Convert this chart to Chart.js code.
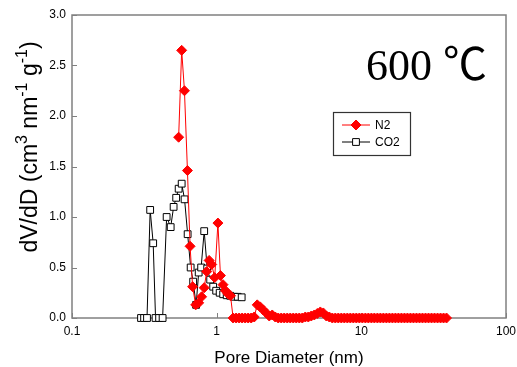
<!DOCTYPE html>
<html>
<head>
<meta charset="utf-8">
<script src="https://cdn.jsdelivr.net/npm/chart.js@4/dist/chart.umd.min.js"></script>
<style>
  html, body { margin: 0; padding: 0; background: #fff; }
  #wrap { width: 517px; height: 367px; position: relative; }
</style>
</head>
<body>
<div id="wrap"><canvas id="c" width="517" height="367"></canvas></div>
<script>
// Axis ticks
const xTicks = [0.1, 1, 10, 100];
const yTicks = [0, 0.5, 1.0, 1.5, 2.0, 2.5, 3.0];

// N2 pore size distribution: diameter (nm) and dV/dD
const n2Diameter = [
  0.546, 0.573, 0.599, 0.628, 0.655, 0.682, 0.716, 0.751, 0.787, 0.820,
  0.853, 0.887, 0.924, 0.969, 1.020, 1.062, 1.106, 1.151, 1.197, 1.246,
  1.300, 1.364, 1.431, 1.501, 1.575, 1.652, 1.733, 1.818, 1.907, 2.000,
  2.098, 2.201, 2.309, 2.422, 2.541, 2.665, 2.796, 2.933, 3.077, 3.228,
  3.386, 3.552, 3.726, 3.908, 4.100, 4.300, 4.510, 4.730, 4.962, 5.205,
  5.460, 5.728, 6.008, 6.303, 6.612, 6.935, 7.275, 7.632, 8.006, 8.398,
  8.809, 9.241, 9.694, 10.17, 10.67, 11.19, 11.74, 12.31, 12.92, 13.55,
  14.21, 14.91, 15.64, 16.41, 17.21, 18.05, 18.94, 19.87, 20.84, 21.86,
  22.93, 24.06, 25.24, 26.47, 27.77, 29.13, 30.56, 32.06, 33.63, 35.28,
  37.00, 38.80
];
const n2Value = [
  1.79, 2.65, 2.25, 1.46, 0.71, 0.31, 0.13, 0.15, 0.21, 0.30,
  0.46, 0.57, 0.53, 0.40, 0.94, 0.42, 0.33, 0.27, 0.24, 0.22,
  0.00, 0.00, 0.00, 0.00, 0.00, 0.00, 0.00, 0.01, 0.13, 0.11,
  0.08, 0.05, 0.02, 0.03, 0.01, 0.00, 0.00, 0.00, 0.00, 0.00,
  0.00, 0.00, 0.00, 0.00, 0.01, 0.01, 0.02, 0.03, 0.045, 0.06,
  0.05, 0.02, 0.01, 0.00, 0.00, 0.00, 0.00, 0.00, 0.00, 0.00,
  0.00, 0.00, 0.00, 0.00, 0.00, 0.00, 0.00, 0.00, 0.00, 0.00,
  0.00, 0.00, 0.00, 0.00, 0.00, 0.00, 0.00, 0.00, 0.00, 0.00,
  0.00, 0.00, 0.00, 0.00, 0.00, 0.00, 0.00, 0.00, 0.00, 0.00,
  0.00, 0.00
];

// CO2 pore size distribution: diameter (nm) and dV/dD
const co2Diameter = [
  0.300, 0.315, 0.330, 0.347, 0.364, 0.378, 0.400, 0.423, 0.451, 0.481,
  0.504, 0.525, 0.546, 0.573, 0.600, 0.630, 0.661, 0.688, 0.721, 0.751,
  0.781, 0.820, 0.860, 0.902, 0.946, 0.992, 1.049, 1.109, 1.173, 1.240,
  1.322, 1.398, 1.489
];
const co2Value = [
  0.00, 0.00, 0.00, 1.07, 0.74, 0.00, 0.00, 0.00, 1.00, 0.90,
  1.10, 1.19, 1.28, 1.33, 1.175, 0.83, 0.50, 0.36, 0.13, 0.45,
  0.50, 0.86, 0.49, 0.38, 0.31, 0.27, 0.25, 0.235, 0.225, 0.22,
  0.21, 0.21, 0.205
];

const seriesNames = ['N2', 'CO2'];
const tempLabel = '600 \u2103';
const xTitle = 'Pore Diameter (nm)';
// y title pieces: [text, superscript?]
const yTitleParts = [['dV/dD (cm', false], ['3', true], [' nm', false], ['-1', true], [' g', false], ['-1', true], [')', false]];

const sansFont = '"Liberation Sans", Arial, sans-serif';
const frameColor = '#808080';

const toPoints = (xs, ys) => xs.map((x, i) => ({ x: x, y: ys[i] }));

// frame, inward tick marks
const framePlugin = {
  id: 'frame',
  beforeDatasetsDraw(chart) {
    const { ctx, chartArea: a, scales } = chart;
    ctx.save();
    ctx.strokeStyle = frameColor;
    ctx.lineWidth = 1.5;
    ctx.strokeRect(a.left, a.top, a.right - a.left, a.bottom - a.top);
    ctx.lineWidth = 1;
    ctx.beginPath();
    yTicks.forEach(v => {
      const y = Math.round(scales.y.getPixelForValue(v)) + 0.5;
      ctx.moveTo(a.left, y); ctx.lineTo(a.left + 5, y);
    });
    xTicks.forEach(v => {
      const x = Math.round(scales.x.getPixelForValue(v)) + 0.5;
      ctx.moveTo(x, a.bottom); ctx.lineTo(x, a.bottom - 5);
    });
    ctx.stroke();
    ctx.restore();
  }
};

// rotated y title with superscripts, temperature label, legend box
const annotPlugin = {
  id: 'annot',
  afterDraw(chart) {
    const { ctx } = chart;
    ctx.save();
    // y axis title
    const base = '23px ' + sansFont, sup = '16px ' + sansFont;
    let total = 0;
    yTitleParts.forEach(([t, s]) => { ctx.font = s ? sup : base; total += ctx.measureText(t).width; });
    ctx.translate(37, 147);
    ctx.rotate(-Math.PI / 2);
    ctx.fillStyle = '#000';
    ctx.textBaseline = 'alphabetic';
    ctx.textAlign = 'left';
    let u = -total / 2;
    yTitleParts.forEach(([t, s]) => {
      ctx.font = s ? sup : base;
      ctx.fillText(t, u, s ? -10 : 0);
      u += ctx.measureText(t).width;
    });
    ctx.restore();

    // temperature label
    ctx.save();
    ctx.fillStyle = '#000';
    ctx.font = '44px "Liberation Serif", "Times New Roman", "Noto Sans CJK SC", serif';
    ctx.textBaseline = 'alphabetic';
    ctx.textAlign = 'left';
    ctx.fillText(tempLabel, 366, 80);
    ctx.restore();

    // legend
    ctx.save();
    const bx = 333, by = 112, bw = 77, bh = 43;
    ctx.strokeStyle = '#333';
    ctx.lineWidth = 1.2;
    ctx.strokeRect(bx + 0.5, by + 0.5, bw, bh);
    const rows = [125, 142];
    chart.data.datasets.forEach((ds, i) => {
      const y = rows[i];
      ctx.strokeStyle = ds.borderColor;
      ctx.lineWidth = 1;
      ctx.beginPath(); ctx.moveTo(342, y); ctx.lineTo(370, y); ctx.stroke();
      const cx = 356, r = ds.pointRadius;
      ctx.fillStyle = ds.pointBackgroundColor;
      ctx.strokeStyle = ds.pointBorderColor;
      ctx.beginPath();
      if (ds.pointStyle === 'rectRot') {
        ctx.moveTo(cx, y - r); ctx.lineTo(cx + r, y); ctx.lineTo(cx, y + r); ctx.lineTo(cx - r, y); ctx.closePath();
      } else {
        const h = r * Math.SQRT1_2;
        ctx.rect(cx - h, y - h, 2 * h, 2 * h);
      }
      ctx.fill(); ctx.stroke();
      ctx.fillStyle = '#000';
      ctx.font = '12px ' + sansFont;
      ctx.textBaseline = 'middle';
      ctx.fillText(ds.label, 375, y + 1);
    });
    ctx.restore();
  }
};

new Chart(document.getElementById('c'), {
  type: 'line',
  data: {
    datasets: [
      {
        label: seriesNames[0],
        data: toPoints(n2Diameter, n2Value),
        borderColor: '#ff0000',
        borderWidth: 1,
        pointStyle: 'rectRot',
        pointRadius: 5,
        pointBackgroundColor: '#ff0000',
        pointBorderColor: '#ff0000',
        pointBorderWidth: 1,
        tension: 0,
        clip: false,
        order: 0
      },
      {
        label: seriesNames[1],
        data: toPoints(co2Diameter, co2Value),
        borderColor: '#000000',
        borderWidth: 1,
        pointStyle: 'rect',
        pointRadius: 4.8,
        pointBackgroundColor: '#ffffff',
        pointBorderColor: '#000000',
        pointBorderWidth: 1,
        tension: 0,
        clip: false,
        order: 1
      }
    ]
  },
  options: {
    responsive: false,
    animation: false,
    devicePixelRatio: 1,
    events: [],
    layout: { padding: { left: 0, top: 15, right: 11, bottom: 0 } },
    plugins: { legend: { display: false }, tooltip: { enabled: false } },
    scales: {
      x: {
        type: 'logarithmic',
        min: 0.1,
        max: 100,
        afterBuildTicks: s => { s.ticks = xTicks.map(v => ({ value: v })); },
        afterFit: s => { s.height = 49; s.paddingLeft = 0; s.paddingRight = 0; },
        grid: { display: false, drawTicks: false },
        border: { display: false },
        ticks: {
          padding: 6,
          color: '#000',
          maxRotation: 0,
          autoSkip: false,
          font: { family: sansFont, size: 12 },
          callback: v => String(v)
        },
        title: {
          display: true,
          text: xTitle,
          color: '#000',
          font: { family: sansFont, size: 17 },
          padding: { top: 0, bottom: -2 }
        }
      },
      y: {
        type: 'linear',
        min: 0,
        max: 3,
        afterBuildTicks: s => { s.ticks = yTicks.map(v => ({ value: v })); },
        afterFit: s => { s.width = 72; s.paddingTop = 0; s.paddingBottom = 0; },
        grid: { display: false, drawTicks: false },
        border: { display: false },
        ticks: {
          padding: 6,
          color: '#000',
          font: { family: sansFont, size: 12 },
          callback: v => Number(v).toFixed(1)
        }
      }
    }
  },
  plugins: [framePlugin, annotPlugin]
});
</script>
</body>
</html>
